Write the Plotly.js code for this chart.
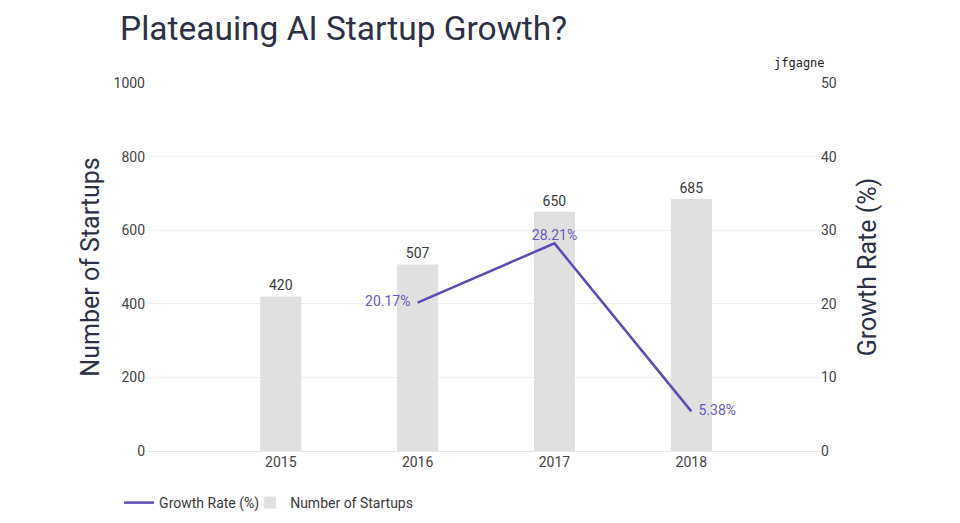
<!DOCTYPE html>
<html>
<head>
<meta charset="utf-8">
<script src="https://cdn.plot.ly/plotly-3.0.1.min.js"></script>
<style>html,body{margin:0;padding:0;background:#fff}#chart{width:960px;height:523px}</style>
</head>
<body>
<div id="chart"></div>
<script>
const years = ['2015', '2016', '2017', '2018'];
const startups = [420, 507, 650, 685];
const growthYears = ['2016', '2017', '2018'];
const growthRate = [20.17, 28.21, 5.38];
const growthLabels = ['20.17%\u2002', '28.21%', '\u20025.38%'];
const leftTicks = [0, 200, 400, 600, 800, 1000];
const rightTicks = [0, 10, 20, 30, 40, 50];

const FONT = 'Roboto, "Noto Sans", sans-serif';
const DARK = '#2c3145';

const data = [
  {
    type: 'scatter', mode: 'lines+text', name: 'Growth Rate (%)',
    x: growthYears, y: growthRate, yaxis: 'y2', legend: 'legend',
    text: growthLabels,
    textposition: ['middle left', 'top center', 'middle right'],
    textfont: {family: FONT, size: 14, color: '#6b57c4'},
    line: {color: '#5e49b8', width: 2.5},
    cliponaxis: false, hoverinfo: 'skip'
  },
  {
    type: 'bar', name: 'Number of Startups', legend: 'legend2',
    x: years, y: startups,
    text: startups.map(String), textposition: 'outside',
    textfont: {family: FONT, size: 14, color: '#3a3a3a'},
    marker: {color: '#e0e0e0'},
    width: 0.3, cliponaxis: false, hoverinfo: 'skip'
  }
];

const legendBase = {orientation: 'h', xanchor: 'left', yref: 'container', y: 20/523, yanchor: 'middle',
                    bgcolor: 'rgba(0,0,0,0)',
                    font: {family: FONT, size: 14, color: '#3a3a3a'}};

const layout = {
  width: 960, height: 523,
  margin: {l: 148, r: 140, t: 83, b: 72, autoexpand: false},
  paper_bgcolor: '#fff', plot_bgcolor: '#fff',
  font: {family: FONT, size: 14, color: '#444'},
  showlegend: true,
  legend: Object.assign({}, legendBase, {x: -0.043}),
  legend2: Object.assign({}, legendBase, {x: 0.152}),
  title: {text: 'Plateauing AI Startup Growth?', x: 120/960, xanchor: 'left',
          y: 1 - 28/523, yanchor: 'middle', font: {family: FONT, size: 33.5, color: DARK}},
  xaxis: {type: 'category', categoryorder: 'array', categoryarray: years, automargin: false,
          range: [-0.97, 3.94], showgrid: false, zeroline: false, showline: false,
          ticks: '', ticklabelstandoff: 1, tickfont: {family: FONT, size: 14, color: '#444'}},
  yaxis: {range: [0, 1000], tickvals: leftTicks, showgrid: true, gridcolor: '#efefef', automargin: false,
          zeroline: true, zerolinecolor: '#e8e8e8', showline: false, ticks: '',
          ticklabelstandoff: 2,
          tickfont: {family: FONT, size: 14, color: '#444'},
          title: {text: 'Number of Startups', standoff: 6, font: {family: FONT, size: 25, color: DARK}}},
  yaxis2: {range: [0, 50], tickvals: rightTicks, overlaying: 'y', side: 'right', automargin: false,
           showgrid: false, zeroline: false, showline: false, ticks: '',
           tickfont: {family: FONT, size: 14, color: '#444'},
           title: {text: 'Growth Rate (%)', standoff: 22, font: {family: FONT, size: 25, color: DARK}}},
  annotations: [{
    text: 'jfgagne', xref: 'paper', yref: 'paper', x: 1.01, y: 1.03,
    xanchor: 'right', yanchor: 'bottom', showarrow: false,
    font: {family: '"DejaVu Sans Mono", monospace', size: 12, color: '#222'}
  }]
};

Plotly.newPlot('chart', data, layout, {displayModeBar: false, staticPlot: true});
</script>
</body>
</html>
